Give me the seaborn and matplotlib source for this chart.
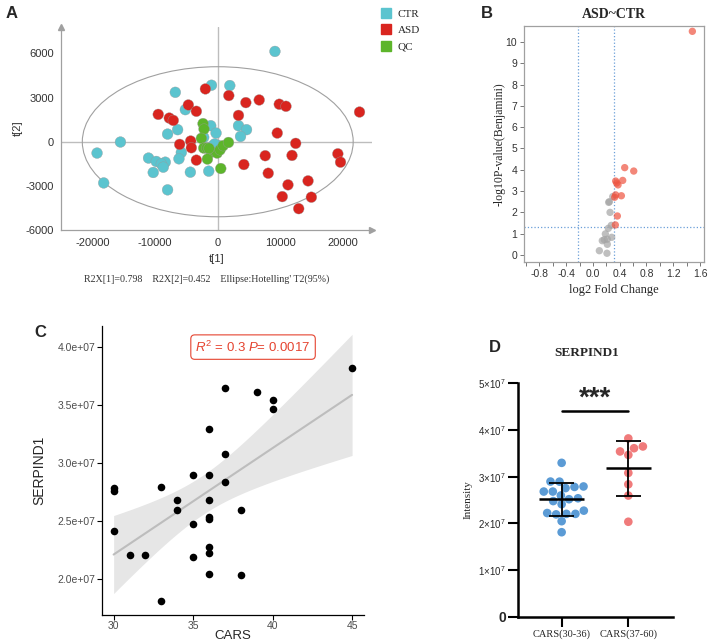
import numpy as np
import pandas as pd
import matplotlib
matplotlib.use("Agg")
import matplotlib.pyplot as plt
import seaborn as sns
from matplotlib.patches import Ellipse
from matplotlib.lines import Line2D
from matplotlib.ticker import FixedLocator, FixedFormatter

# ---------------- data ----------------
# Panel A: PCA scores
ctr_t1 = [9120, -1000, 1920, -6770, -5170, -1120, 3310, 4590, -6400, -8000, -270, 3630, -2240,
          -15520, -19250, -18190, -11040, -9810, -8370, -9010, -8690, -5810, -6190, -10290,
          -4370, -1440, -8000, -910, 50, -500]
ctr_t2 = [6140, 3840, 3820, 3360, 2180, 1090, 1090, 820, 820, 520, 590, 360, 300,
          -20, -770, -2800, -1110, -1340, -1390, -1500, -1730, -730, -1160, -2090,
          -2070, -2000, -3270, -320, -250, -150]
asd_t1 = [-1970, 1760, 4480, 6610, 9810, 10880, 22610, -4690, -3410, -9490, -7730, -7090, 3310,
          9490, 12430, -4320, -6080, -4210, -3410, 4160, 7570, 11840, 19150, 19580, 8050,
          11200, 14400, 10290, 14930, 12910]
asd_t2 = [3590, 3140, 2660, 2840, 2550, 2410, 2020, 2500, 2070, 1860, 1610, 1450, 1790,
          590, -110, 50, -180, -410, -1250, -1550, -950, -930, -820, -1390, -2140,
          -2930, -2660, -3730, -3770, -4550]
qc_t1 = [-2350, -2190, -2610, -2240, -1750, -1000, -1650, -100, 370, 850, 1710, 480, -1400]
qc_t2 = [1230, 860, 230, -430, -430, -700, -1180, -770, -550, -270, -50, -1820, -450]
groups_A = ["CTR", "ASD", "QC"]
colors_A = ["#5BC4CF", "#D9251F", "#5DB52B"]
a_xticks = [-20000, -10000, 0, 10000, 20000]
a_yticks = [-6000, -3000, 0, 3000, 6000]

# Panel B: volcano
sig_fc = [1.486, 0.475, 0.61, 0.445, 0.34, 0.375, 0.425, 0.34, 0.325, 0.365, 0.335, 0.355]
sig_p = [10.5, 4.10, 3.94, 3.5, 3.47, 3.29, 2.78, 2.82, 2.71, 1.83, 1.41, 3.38]
ns_fc = [0.296, 0.236, 0.245, 0.256, 0.275, 0.23, 0.186, 0.28, 0.215, 0.14, 0.215, 0.096, 0.21, 0.17]
ns_p = [2.74, 2.47, 2.5, 2.0, 1.39, 1.25, 0.99, 0.83, 0.74, 0.67, 0.5, 0.2, 0.08, 0.72]
fc_cut = [-0.22, 0.31]
p_cut = 1.3
b_xticks = [-0.8, -0.4, 0.0, 0.4, 0.8, 1.2, 1.6]
b_xminor = [-1.0, -0.6, -0.2, 0.2, 0.6, 1.0, 1.4]
b_yticks = list(range(0, 11))

# Panel C/D: CARS vs SERPIND1
cars = [45, 37, 39, 40, 40, 36, 37, 35, 36, 37, 30, 33, 30, 34, 36, 34, 38, 35, 36, 36,
        30, 31, 32, 35, 36, 36, 36, 38, 33]
serpind1 = [3.819e7, 3.647e7, 3.609e7, 3.54e7, 3.466e7, 3.296e7, 3.08e7, 2.893e7, 2.895e7,
            2.836e7, 2.78e7, 2.79e7, 2.755e7, 2.681e7, 2.681e7, 2.597e7, 2.595e7, 2.477e7,
            2.537e7, 2.517e7, 2.41e7, 2.203e7, 2.203e7, 2.192e7, 2.272e7, 2.221e7, 2.046e7,
            2.034e7, 1.81e7]
c_yticks = [2.0e7, 2.5e7, 3.0e7, 3.5e7, 4.0e7]
c_ytick_labels = ["2.0e+07", "2.5e+07", "3.0e+07", "3.5e+07", "4.0e+07"]
c_xticks = [30, 35, 40, 45]
T_QUANTILE_95_DF27 = 2.0518
d_groups = ["CARS(30-36)", "CARS(37-60)"]
d_colors = ["#5B9BD5", "#F07B7B"]
d_yticks = [0, 1e7, 2e7, 3e7, 4e7, 5e7]
d_ytick_labels = ["0", r"$1{\times}10^7$", r"$2{\times}10^7$", r"$3{\times}10^7$",
                  r"$4{\times}10^7$", r"$5{\times}10^7$"]

# ---------------- style ----------------
sns.set_theme(style="ticks")
plt.rcParams["font.family"] = ["Liberation Sans", "DejaVu Sans"]
plt.rcParams["mathtext.fontset"] = "custom"
plt.rcParams["mathtext.rm"] = "Liberation Sans"
plt.rcParams["mathtext.it"] = "Liberation Sans:italic"
plt.rcParams["axes.unicode_minus"] = False
SERIF = ["Liberation Serif", "DejaVu Serif"]

W, H = 708, 644
fig = plt.figure(figsize=(W / 100, H / 100), dpi=100)

def box(l, t, r, b):
    return [l / W, 1 - b / H, (r - l) / W, (b - t) / H]

# ---------------- Panel A ----------------
axA = fig.add_axes(box(61, 27, 372, 230))
dfA = pd.DataFrame({
    "t1": ctr_t1 + asd_t1 + qc_t1,
    "t2": ctr_t2 + asd_t2 + qc_t2,
    "group": ["CTR"] * len(ctr_t1) + ["ASD"] * len(asd_t1) + ["QC"] * len(qc_t1),
})
axA.axhline(0, color="#BDBDBD", lw=1.0, zorder=1)
axA.axvline(0, color="#BDBDBD", lw=1.0, zorder=1)
axA.add_patch(Ellipse((0, 0), 43200, 10200, fill=False, edgecolor="#A0A0A0", lw=0.8, zorder=1))
sns.scatterplot(data=dfA, x="t1", y="t2", hue="group", hue_order=groups_A,
                palette=dict(zip(groups_A, colors_A)), s=60, linewidth=0.25,
                edgecolor="#9A9A9A", ax=axA, legend=False, zorder=3)
axA.set_xlim(-25000, 24600)
axA.set_ylim(-6000, 7800)
axA.set_xticks(a_xticks)
axA.set_yticks(a_yticks)
axA.tick_params(length=0, labelsize=8, colors="#333333", pad=6)
axA.tick_params(axis="y", pad=5)
for s in ["top", "right"]:
    axA.spines[s].set_visible(False)
for s in ["left", "bottom"]:
    axA.spines[s].set_color("#A0A0A0")
    axA.spines[s].set_linewidth(0.9)
axA.plot([1], [0], marker=">", ms=5, color="#A0A0A0", transform=axA.transAxes, clip_on=False)
axA.plot([0], [1], marker="^", ms=5, color="#A0A0A0", transform=axA.transAxes, clip_on=False)
axA.set_xlabel("t[1]", fontsize=8, color="#333333", labelpad=4)
axA.set_ylabel("t[2]", fontsize=8, color="#333333", labelpad=2)
fig.text(207 / W, 1 - 279 / H, "R2X[1]=0.798    R2X[2]=0.452    Ellipse:Hotelling' T2(95%)",
         family=SERIF, fontsize=7.2, ha="center", va="center", color="#333333")
handles = [Line2D([], [], marker="s", ls="", color=c, ms=7) for c in colors_A]
fig.legend(handles, groups_A, loc="upper left", bbox_to_anchor=(382 / W, 1 - 9 / H),
           frameon=False, prop={"family": SERIF, "size": 8}, handlelength=0.8,
           handletextpad=0.6, labelspacing=0.6, borderaxespad=0, borderpad=0)

# ---------------- Panel B ----------------
axB = fig.add_axes(box(524, 26, 704, 262))
dfB = pd.DataFrame({
    "fc": ns_fc + sig_fc,
    "p": ns_p + sig_p,
    "sig": ["ns"] * len(ns_fc) + ["up"] * len(sig_fc),
})
sns.scatterplot(data=dfB, x="fc", y="p", hue="sig", palette={"ns": "#A5A5A5", "up": "#EE5440"},
                alpha=0.7, s=28, linewidth=0, ax=axB, legend=False, zorder=3)
for v in fc_cut:
    axB.axvline(v, ls=":", color="#6A9FD8", lw=0.9, zorder=1)
axB.axhline(p_cut, ls=":", color="#6A9FD8", lw=0.9, zorder=1)
axB.set_xlim(-1.03, 1.66)
axB.set_ylim(-0.33, 10.75)
axB.set_xticks(b_xticks)
axB.set_xticks(b_xminor, minor=True)
axB.set_xticklabels([f"{t:.1f}" for t in b_xticks])
axB.set_yticks(b_yticks)
axB.tick_params(which="both", length=3, width=0.7, color="#777777", labelsize=7.5,
                colors="#333333", pad=2)
for s in axB.spines.values():
    s.set_color("#A0A0A0")
    s.set_linewidth(0.9)
axB.set_title("ASD~CTR", family=SERIF, fontsize=10, fontweight="bold", pad=6)
axB.set_xlabel("log2 Fold Change", family=SERIF, fontsize=9, labelpad=4)
axB.set_ylabel("-log10P-value(Benjamini)", family=SERIF, fontsize=8.5, labelpad=0)

# ---------------- Panel C ----------------
axC = fig.add_axes(box(101.7, 326, 364, 615))
xc = np.array(cars, dtype=float)
yc = np.array(serpind1)
slope, intercept = np.polyfit(xc, yc, 1)
resid = yc - (slope * xc + intercept)
s_err = np.sqrt((resid ** 2).sum() / (len(xc) - 2))
grid = np.linspace(xc.min(), xc.max(), 100)
se_fit = s_err * np.sqrt(1 / len(xc) + (grid - xc.mean()) ** 2 / ((xc - xc.mean()) ** 2).sum())
fit = slope * grid + intercept
axC.fill_between(grid, fit - T_QUANTILE_95_DF27 * se_fit, fit + T_QUANTILE_95_DF27 * se_fit,
                 color="#E6E6E6", lw=0, zorder=1)
sns.regplot(x=xc, y=yc, ax=axC, ci=None,
            scatter_kws=dict(s=30, color="black", alpha=1, linewidths=0, zorder=3),
            line_kws=dict(color="#BDBDBD", lw=1.5, zorder=2))
axC.set_xlim(29.25, 45.75)
axC.set_ylim(1.69e7, 4.18e7)
axC.set_xticks(c_xticks)
axC.yaxis.set_major_locator(FixedLocator(c_yticks))
axC.yaxis.set_major_formatter(FixedFormatter(c_ytick_labels))
axC.tick_params(length=3.5, width=0.8, color="black", labelsize=7.5, labelcolor="#4D4D4D", pad=1)
for s in ["top", "right"]:
    axC.spines[s].set_visible(False)
for s in ["left", "bottom"]:
    axC.spines[s].set_color("black")
    axC.spines[s].set_linewidth(0.9)
axC.set_xlabel("CARS", fontsize=9.5, va="center")
axC.xaxis.set_label_coords(0.5, -(636 - 615) / 289)
axC.set_ylabel("SERPIND1", fontsize=10, labelpad=8)
axC.text(0.577, 0.927, r"$R^2$ = 0.3 $P$= 0.0017", transform=axC.transAxes, ha="center",
         va="center", fontsize=9.5, color="#E5432F",
         bbox=dict(boxstyle="round,pad=0.35,rounding_size=0.3", fc="white", ec="#E5432F", lw=0.8))

# ---------------- Panel D ----------------
axD = fig.add_axes(box(518.3, 383.3, 673, 616.7))
grp = [d_groups[0] if c <= 36 else d_groups[1] for c in cars]
dfD = pd.DataFrame({"group": grp, "val": serpind1})
sns.swarmplot(data=dfD, x="group", y="val", hue="group", order=d_groups, hue_order=d_groups,
              palette=dict(zip(d_groups, d_colors)), size=6.2, ax=axD, legend=False, zorder=2)
for i, g in enumerate(d_groups):
    v = dfD.loc[dfD.group == g, "val"].to_numpy()
    m, sd = v.mean(), v.std(ddof=1)
    axD.hlines(m, i - 0.34, i + 0.34, color="black", lw=1.8, zorder=4)
    axD.vlines(i, m - sd, m + sd, color="black", lw=1.3, zorder=4)
    axD.hlines([m - sd, m + sd], i - 0.19, i + 0.19, color="black", lw=1.3, zorder=4)
axD.plot([0, 1], [4.405e7, 4.405e7], color="black", lw=1.8)
axD.text(0.5, 4.52e7, "***", ha="center", va="baseline", fontsize=20, fontweight="bold")
axD.set_xlim(-0.65, 1.67)
axD.set_ylim(0, 5e7)
axD.yaxis.set_major_locator(FixedLocator(d_yticks))
axD.yaxis.set_major_formatter(FixedFormatter(d_ytick_labels))
axD.tick_params(length=7, width=1.5, color="black", labelsize=7, pad=2)
lbl0 = axD.get_yticklabels()[0]
lbl0.set_fontweight("bold")
lbl0.set_fontsize(10)
for lab in axD.get_xticklabels():
    lab.set_family(SERIF)
    lab.set_fontsize(7.5)
for s in ["top", "right"]:
    axD.spines[s].set_visible(False)
for s in ["left", "bottom"]:
    axD.spines[s].set_color("black")
    axD.spines[s].set_linewidth(1.8)
axD.set_xlabel("")
axD.set_ylabel("Intensity", family=SERIF, fontsize=8, labelpad=4)
fig.text(587 / W, 1 - 353 / H, "SERPIND1", family=SERIF, fontsize=9.5, fontweight="bold",
         ha="center", va="center")

# ---------------- panel letters ----------------
for lx, ly, t in [(12, 13, "A"), (487, 13, "B"), (40, 333, "C"), (495, 348, "D")]:
    fig.text(lx / W, 1 - ly / H, t, fontsize=12, fontweight="bold", ha="center", va="center")

fig.savefig("out.png", dpi=100)
